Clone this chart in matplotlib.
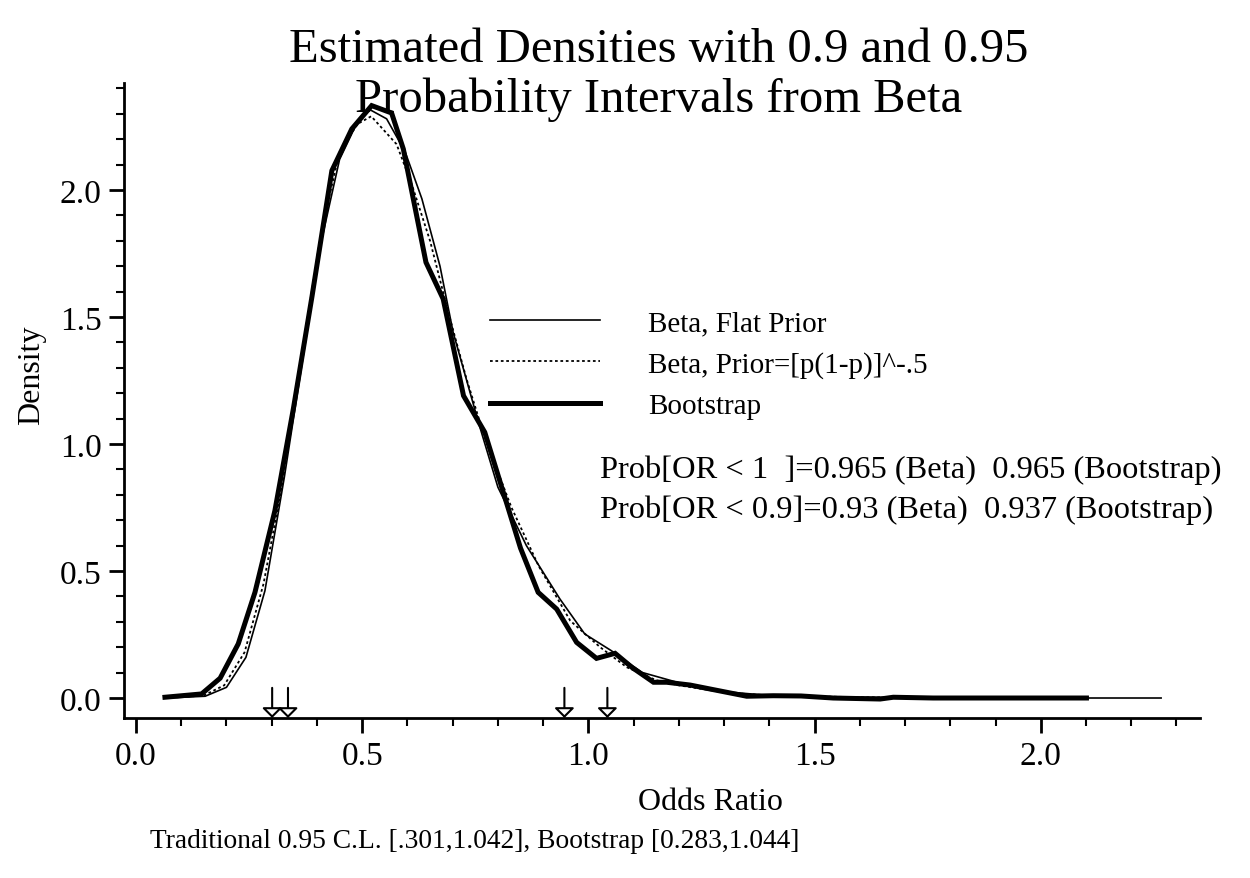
import numpy as np
import matplotlib
matplotlib.use('Agg')
import matplotlib.pyplot as plt
from matplotlib.ticker import MultipleLocator

plt.rcParams['font.family'] = ['Liberation Serif', 'DejaVu Serif']

# Bootstrap density (thick)
boot_x = [0.064, 0.145, 0.186, 0.226, 0.263, 0.307, 0.348, 0.389, 0.433, 0.477,
          0.521, 0.565, 0.591, 0.641, 0.679, 0.724, 0.771, 0.85, 0.889, 0.930,
          0.974, 1.018, 1.059, 1.096, 1.144, 1.173, 1.225, 1.276, 1.35, 1.409,
          1.47, 1.541, 1.645, 1.674, 1.762, 1.9, 2.101]
boot_y = [0.003, 0.016, 0.078, 0.213, 0.416, 0.737, 1.14, 1.58, 2.076, 2.24,
          2.332, 2.303, 2.161, 1.715, 1.571, 1.19, 1.046, 0.59, 0.416, 0.350,
          0.219, 0.156, 0.176, 0.121, 0.062, 0.062, 0.051, 0.033, 0.007, 0.009,
          0.008, 0.0, -0.004, 0.003, 0.0, 0.0, 0.0]

# Beta, flat prior (thin solid)
flat_x = [0.066, 0.153, 0.200, 0.243, 0.285, 0.328, 0.37, 0.41, 0.45, 0.49,
          0.513, 0.554, 0.595, 0.632, 0.672, 0.701, 0.757, 0.80, 0.863, 0.937,
          0.992, 1.051, 1.118, 1.158, 1.2, 1.25, 1.3, 1.4, 1.5, 1.6, 1.8, 2.0, 2.266]
flat_y = [0.0, 0.007, 0.042, 0.160, 0.422, 0.87, 1.35, 1.80, 2.12, 2.27,
          2.32, 2.28, 2.15, 1.965, 1.70, 1.44, 1.085, 0.83, 0.60, 0.39,
          0.252, 0.186, 0.101, 0.081, 0.06, 0.04, 0.025, 0.01, 0.006, 0.003, 0.001, 0.0, 0.0]

# Beta, Jeffreys prior (dotted)
jeff_x = [0.066, 0.15, 0.195, 0.24, 0.282, 0.325, 0.367, 0.41, 0.45, 0.49,
          0.52, 0.576, 0.61, 0.65, 0.69, 0.73, 0.77, 0.83, 0.89, 0.96,
          1.026, 1.085, 1.15, 1.2, 1.3, 1.4, 1.6, 1.8, 2.1]
jeff_y = [0.0, 0.01, 0.05, 0.18, 0.45, 0.86, 1.36, 1.84, 2.15, 2.26,
          2.29, 2.18, 2.02, 1.80, 1.52, 1.26, 1.03, 0.75, 0.52, 0.304,
          0.20, 0.121, 0.07, 0.05, 0.022, 0.01, 0.003, 0.001, 0.0]

# interval endpoints marked with arrows
interval_ends = [0.301, 0.336, 0.947, 1.042]

labels = ['Beta, Flat Prior', 'Beta, Prior=[p(1-p)]^-.5', 'Bootstrap']
prob_lines = ['Prob[OR < 1  ]=0.965 (Beta)  0.965 (Bootstrap)',
              'Prob[OR < 0.9]=0.93 (Beta)  0.937 (Bootstrap)']
note = 'Traditional 0.95 C.L. [.301,1.042], Bootstrap [0.283,1.044]'

W, H = 1250, 879
fig = plt.figure(figsize=(W / 100, H / 100), dpi=100)
ax = fig.add_axes([124 / W, 1 - 719 / H, 1076 / W, 635 / H])

l1, = ax.plot(flat_x, flat_y, color='black', lw=1.2)
l2, = ax.plot(jeff_x, jeff_y, color='black', lw=1.3, ls=(0, (1.5, 1.5)))
l3, = ax.plot(boot_x, boot_y, color='black', lw=3.6, solid_joinstyle='miter')

ymin, ymax = -0.0787, 2.421
ax.set_xlim(-0.0265, 2.352)
ax.set_ylim(ymin, ymax)

for xe in interval_ends:
    ax.annotate('', xy=(xe, ymin), xytext=(xe, 0.04),
                arrowprops=dict(arrowstyle='-|>,head_length=0.6,head_width=0.6',
                                fc='white', ec='black', lw=1.5,
                                shrinkA=0, shrinkB=0),
                annotation_clip=False)

for s in ['top', 'right']:
    ax.spines[s].set_visible(False)
for s in ['left', 'bottom']:
    ax.spines[s].set_linewidth(2)

ax.xaxis.set_major_locator(MultipleLocator(0.5))
ax.xaxis.set_minor_locator(MultipleLocator(0.1))
ax.yaxis.set_major_locator(MultipleLocator(0.5))
ax.yaxis.set_minor_locator(MultipleLocator(0.1))
ax.xaxis.set_major_formatter(plt.FuncFormatter(lambda v, p: f'{v:.1f}'))
ax.yaxis.set_major_formatter(plt.FuncFormatter(lambda v, p: f'{v:.1f}'))
ax.tick_params(which='major', length=11, width=2, labelsize=24, pad=5)
ax.tick_params(which='minor', length=6, width=1.5)

ax.set_xlabel('Odds Ratio', fontsize=23)
ax.set_ylabel('Density', fontsize=23)
ax.xaxis.set_label_coords((710 - 124) / 1076, (719 - 788) / 635)
ax.yaxis.set_label_coords((46 - 124) / 1076, (719 - 375) / 635)

ax.legend([l1, l2, l3], labels, loc='upper left',
          bbox_to_anchor=(490 / W, 1 - 311 / H), bbox_transform=fig.transFigure,
          frameon=False, fontsize=21, handlelength=3.77, handletextpad=1.64,
          labelspacing=0.5, borderpad=0, borderaxespad=0)

for i, t in enumerate(prob_lines):
    fig.text(600 / W, 1 - (470 + 40 * i) / H, t, fontsize=23.4, ha='left', va='center')

fig.text(659 / W, 1 - 50 / H, 'Estimated Densities with 0.9 and 0.95',
         fontsize=35, ha='center', va='center')
fig.text(659 / W, 1 - 100 / H, 'Probability Intervals from Beta',
         fontsize=35, ha='center', va='center')

fig.text(150 / W, 1 - 842 / H, note, fontsize=19.8, ha='left', va='center')

fig.savefig('out.png', dpi=100)
